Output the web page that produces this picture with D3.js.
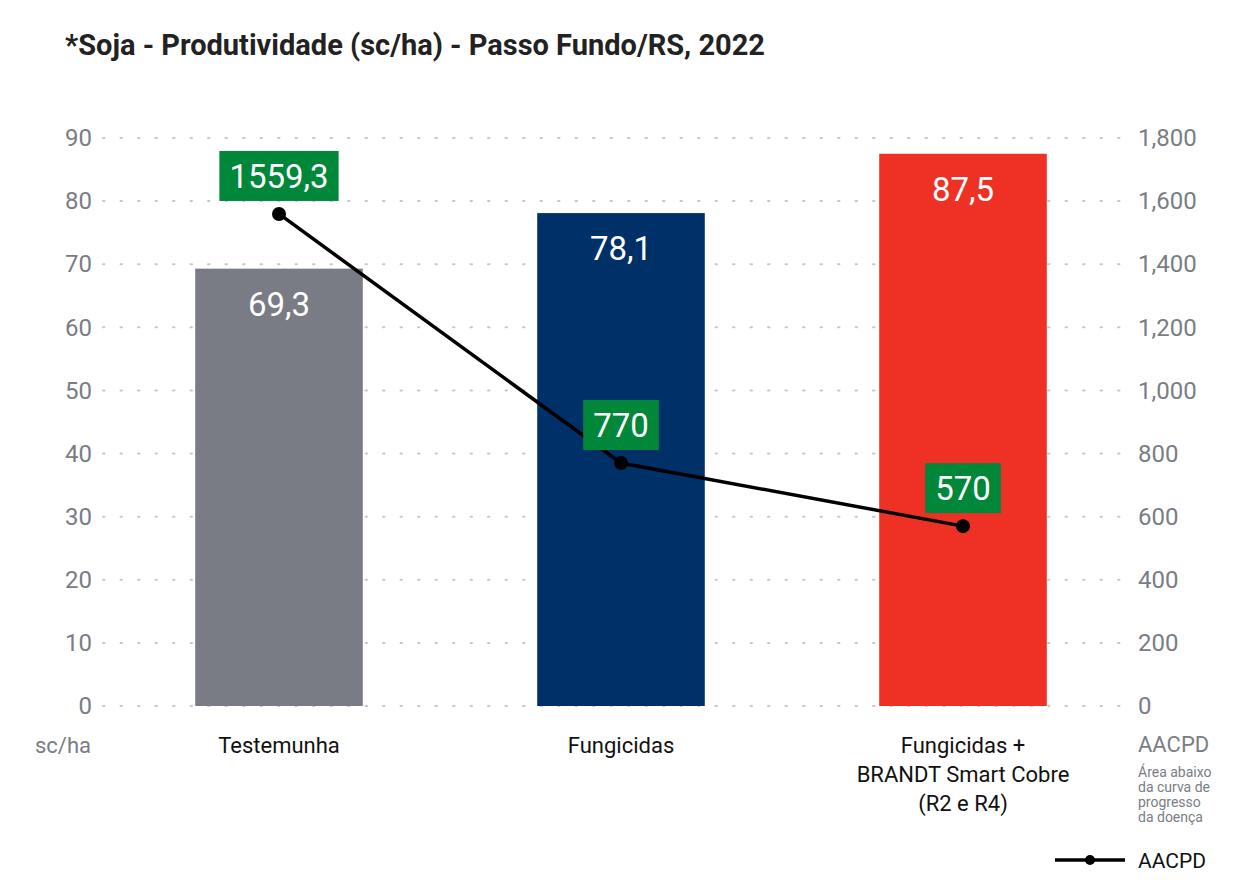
<!DOCTYPE html>
<html><head><meta charset="utf-8">
<script src="https://cdn.jsdelivr.net/npm/d3@7"></script>
<style>body{margin:0;background:#fff}text{font-family:Roboto,"Noto Sans",sans-serif}</style>
</head><body><svg id="c" width="1255" height="884"></svg>
<script>
const categories=[["Testemunha"],["Fungicidas"],["Fungicidas +","BRANDT Smart Cobre","(R2 e R4)"]];
const productivity=[69.3,78.1,87.5];
const aacpd=[1559.3,770,570];
const barColors=["#797c85","#003068","#ee3124"];
const leftTicks=[0,10,20,30,40,50,60,70,80,90];
const rightTicks=[0,200,400,600,800,1000,1200,1400,1600,1800];
const fmt=v=>String(v).replace(".",",");

const svg=d3.select("#c");
const x=d3.scaleBand().domain(d3.range(3)).range([108,1134]).paddingInner(0.51).paddingOuter(0.255);
const y=d3.scaleLinear().domain([0,90]).range([706,138]);
const y2=d3.scaleLinear().domain([0,1800]).range([706,138]);
const gray="#7a7d85";

svg.append("text").attr("x",65).attr("y",55).attr("font-size",29).attr("font-weight",700).attr("fill","#222").text("*Soja - Produtividade (sc/ha) - Passo Fundo/RS, 2022");

svg.append("g").selectAll("line").data(leftTicks).join("line")
 .attr("x1",103).attr("x2",1122).attr("y1",d=>y(d)).attr("y2",d=>y(d))
 .attr("stroke","#c8c9cc").attr("stroke-width",2).attr("stroke-dasharray","1.5 16").attr("stroke-linecap","round");

const la=svg.append("g").attr("transform","translate(92,0)").call(d3.axisLeft(y).tickValues(leftTicks).tickSize(0).tickPadding(0));
la.select(".domain").remove();
la.selectAll("text").attr("font-size",24).attr("fill",gray).style("font-family","Roboto");
const ra=svg.append("g").attr("transform","translate(1138,0)").call(d3.axisRight(y2).tickValues(rightTicks).tickSize(0).tickPadding(0));
ra.select(".domain").remove();
ra.selectAll("text").attr("font-size",24).attr("fill",gray).style("font-family","Roboto");

svg.selectAll(".bar").data(productivity).join("rect")
 .attr("x",(d,i)=>x(i)).attr("width",x.bandwidth()).attr("y",d=>y(d)).attr("height",d=>y(0)-y(d))
 .attr("fill",(d,i)=>barColors[i]);
svg.selectAll(".bl").data(productivity).join("text")
 .attr("x",(d,i)=>x(i)+x.bandwidth()/2).attr("y",d=>y(d)+47).attr("text-anchor","middle")
 .attr("font-size",33).attr("fill","#fff").text(d=>fmt(d));

const cx=i=>x(i)+x.bandwidth()/2;
svg.append("path").datum(aacpd).attr("d",d3.line().x((d,i)=>cx(i)).y(d=>y2(d)))
 .attr("fill","none").attr("stroke","#000").attr("stroke-width",3.5);
svg.selectAll(".pt").data(aacpd).join("circle").attr("cx",(d,i)=>cx(i)).attr("cy",d=>y2(d)).attr("r",7).attr("fill","#000");

const lab=svg.selectAll(".lab").data(aacpd).join("g").attr("transform",(d,i)=>`translate(${cx(i)},${y2(d)-38})`);
lab.append("text").attr("text-anchor","middle").attr("y",12).attr("font-size",33).attr("fill","#fff").text(d=>fmt(d));
lab.each(function(){const g=d3.select(this),b=g.select("text").node().getBBox();
 g.insert("rect","text").attr("x",b.x-10).attr("y",-25).attr("width",b.width+20).attr("height",50).attr("fill","#00873a");});

categories.forEach((c,i)=>{svg.append("text").attr("x",cx(i)).attr("y",753).attr("text-anchor","middle").attr("font-size",22).attr("fill","#111")
 .selectAll("tspan").data(c).join("tspan").attr("x",cx(i)).attr("dy",(d,j)=>j?29:0).text(d=>d);});

svg.append("text").attr("x",35).attr("y",753).attr("font-size",22).attr("fill",gray).text("sc/ha");
svg.append("text").attr("x",1138).attr("y",752).attr("font-size",22).attr("fill",gray).text("AACPD");
svg.append("text").attr("x",1138).attr("y",777).attr("font-size",14).attr("fill",gray)
 .selectAll("tspan").data(["Área abaixo","da curva de","progresso","da doença"]).join("tspan").attr("x",1138).attr("dy",(d,j)=>j?15:0).text(d=>d);

svg.append("line").attr("x1",1055).attr("x2",1125).attr("y1",860).attr("y2",860).attr("stroke","#000").attr("stroke-width",3.5);
svg.append("circle").attr("cx",1090).attr("cy",860).attr("r",5).attr("fill","#000");
svg.append("text").attr("x",1138).attr("y",868).attr("font-size",21).attr("fill","#111").text("AACPD");
</script></body></html>
